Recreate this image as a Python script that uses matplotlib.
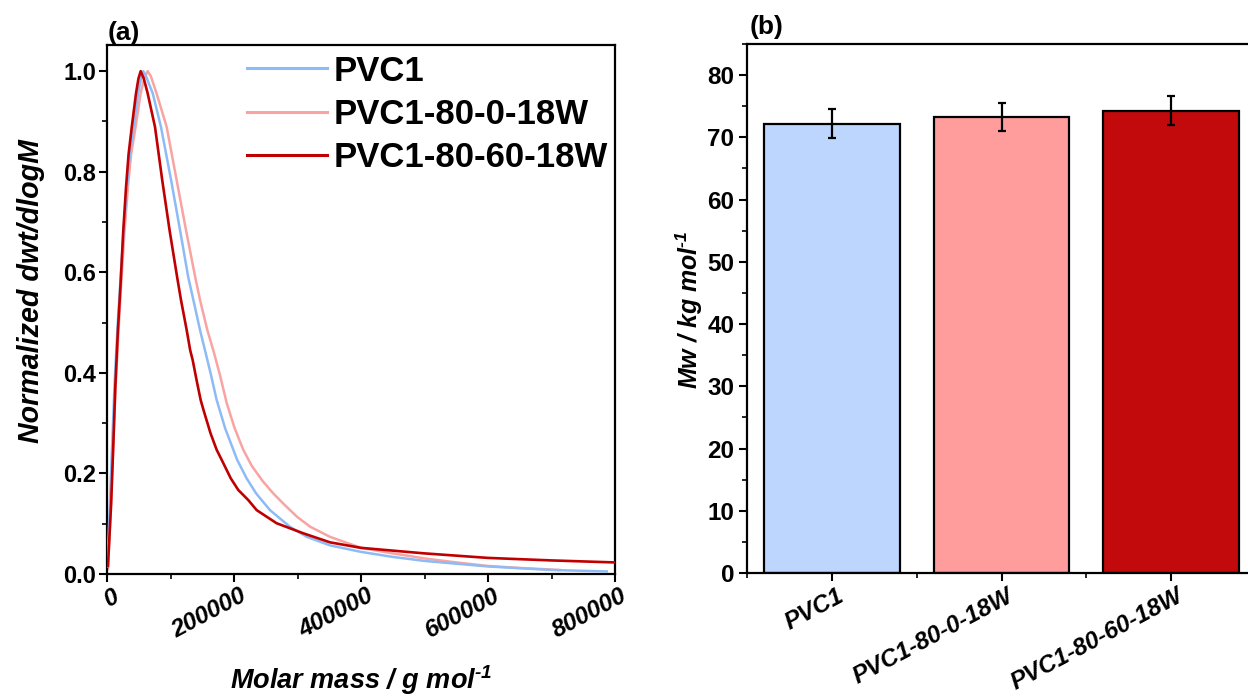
import matplotlib
matplotlib.use("Agg")
import matplotlib.pyplot as plt
from matplotlib.transforms import ScaledTranslation
from matplotlib.ticker import MultipleLocator

plt.rcParams['font.family'] = ['Liberation Sans', 'DejaVu Sans']
plt.rcParams['mathtext.fontset'] = 'custom'
plt.rcParams['mathtext.rm'] = 'Liberation Sans:italic:bold'
plt.rcParams['mathtext.it'] = 'Liberation Sans:italic:bold'
plt.rcParams['mathtext.bf'] = 'Liberation Sans:italic:bold'

# ---------------- data: panel (a) ----------------
series_names = ["PVC1", "PVC1-80-0-18W", "PVC1-80-60-18W"]
line_colors = ["#8DBBF5", "#F9A3A3", "#C00000"]

pvc1_x = [500, 4500, 8500, 12000, 16500, 21000, 26000, 31500, 36000, 42000, 49000, 53500, 57000,
          61500, 66000, 72000, 85000, 101000, 115000, 128000, 136000, 146500, 154300, 163000,
          172700, 186000, 205000, 220000, 235000, 256700, 288000, 314500, 351000, 400000,
          450000, 500000, 600000, 700000, 787000]
pvc1_y = [0.015, 0.14, 0.27, 0.38, 0.49, 0.58, 0.68, 0.77, 0.835, 0.889, 0.956, 0.985, 1.0,
          0.99, 0.975, 0.956, 0.889, 0.783, 0.684, 0.590, 0.545, 0.485, 0.445, 0.400,
          0.346, 0.290, 0.227, 0.190, 0.160, 0.127, 0.094, 0.074, 0.057, 0.044,
          0.034, 0.026, 0.015, 0.008, 0.005]

pvc180_x = [1500, 6000, 10000, 13500, 18000, 22500, 27500, 33000, 38000, 45000, 53000, 58500, 64000,
            69000, 73000, 78000, 94000, 109700, 124400, 139000, 146500, 158000, 167400, 178000,
            188500, 201000, 214600, 228000, 245000, 262000, 280000, 300000, 320000, 351000, 400000,
            450000, 500000, 550000, 600000, 650000, 713000]
pvc180_y = [0.010, 0.13, 0.26, 0.37, 0.48, 0.58, 0.68, 0.77, 0.835, 0.889, 0.956, 0.985, 1.0,
            0.99, 0.975, 0.956, 0.889, 0.783, 0.684, 0.590, 0.545, 0.485, 0.445, 0.395,
            0.340, 0.290, 0.247, 0.215, 0.185, 0.160, 0.137, 0.113, 0.094, 0.074, 0.052,
            0.041, 0.031, 0.023, 0.016, 0.012, 0.008]

pvc18060_x = [1500, 6500, 10000, 13000, 17000, 21500, 25500, 30000, 34000, 39000, 45700, 49500, 53000,
              58000, 64000, 75600, 87000, 98500, 110500, 116500, 125500, 131000, 135000, 141000,
              147500, 152000, 163000, 172700, 180600, 195000, 206800, 222500, 235700, 267000,
              309000, 351000, 400000, 500000, 600000, 700000, 800000]
pvc18060_y = [0.016, 0.14, 0.26, 0.37, 0.48, 0.58, 0.68, 0.77, 0.835, 0.889, 0.956, 0.985, 1.0,
              0.985, 0.956, 0.889, 0.783, 0.684, 0.590, 0.545, 0.485, 0.445, 0.425, 0.386,
              0.346, 0.326, 0.280, 0.247, 0.227, 0.190, 0.167, 0.147, 0.127, 0.101,
              0.081, 0.063, 0.052, 0.041, 0.032, 0.027, 0.023]

x_ticks_a = [0, 200000, 400000, 600000, 800000]
x_ticklabels_a = ["0", "200000", "400000", "600000", "800000"]
y_ticks_a = [0.0, 0.2, 0.4, 0.6, 0.8, 1.0]
y_ticklabels_a = ["0.0", "0.2", "0.4", "0.6", "0.8", "1.0"]

# ---------------- data: panel (b) ----------------
bar_categories = ["PVC1", "PVC1-80-0-18W", "PVC1-80-60-18W"]
mw_values = [72.2, 73.3, 74.3]
mw_errors = [2.3, 2.2, 2.3]
bar_colors = ["#BDD6FE", "#FF9C9C", "#C2090B"]
y_ticks_b = [0, 10, 20, 30, 40, 50, 60, 70, 80]

# ---------------- figure ----------------
fig = plt.figure(figsize=(12.48, 6.98), dpi=100)
ax1 = fig.add_axes([107/1248, 1-574/698, 508/1248, 529/698])
ax2 = fig.add_axes([747/1248, 1-573/698, 509/1248, 529/698])

lw_spine = 1.6
for ax in (ax1, ax2):
    for s in ax.spines.values():
        s.set_linewidth(lw_spine)
        s.set_color("black")

# ---- panel (a) ----
ax1.plot(pvc1_x, pvc1_y, color=line_colors[0], lw=1.8, label=series_names[0], zorder=3)
ax1.plot(pvc180_x, pvc180_y, color=line_colors[1], lw=1.8, label=series_names[1], zorder=2)
ax1.plot(pvc18060_x, pvc18060_y, color=line_colors[2], lw=1.9, label=series_names[2], zorder=4)
ax1.set_xlim(0, 800000)
ax1.set_ylim(0, 1.052)
ax1.set_xticks(x_ticks_a)
ax1.set_xticklabels(x_ticklabels_a, rotation=28, ha="right", va="top",
                    rotation_mode="anchor", fontsize=17.5, fontweight="bold", fontstyle="italic")
ax1.set_yticks(y_ticks_a)
ax1.set_yticklabels(y_ticklabels_a, fontsize=17, fontweight="bold")
ax1.xaxis.set_minor_locator(MultipleLocator(100000))
ax1.yaxis.set_minor_locator(MultipleLocator(0.1))
ax1.tick_params(which="major", direction="out", length=6, width=1.5, pad=2)
ax1.tick_params(which="minor", direction="out", length=3.5, width=1.2)
ax1.tick_params(axis="x", which="major", pad=1.5)
off = ScaledTranslation(5/100, 0, fig.dpi_scale_trans)
for lab in ax1.get_xticklabels():
    lab.set_transform(lab.get_transform() + off)

ax1.set_xlabel(r"Molar mass / g mol$^{\text{-}1}$", fontsize=19.5, fontweight="bold", fontstyle="italic")
ax1.xaxis.set_label_coords(0.5, -0.168)
ax1.xaxis.label.set_va("top")
ax1.set_ylabel("Normalized dwt/dlogM", fontsize=20.6, fontweight="bold", fontstyle="italic")
ax1.yaxis.set_label_coords(-0.122, 0.535)

leg = ax1.legend(loc="upper right", bbox_to_anchor=(1.0, 0.995), frameon=False,
                 prop={"size": 25, "weight": "bold"}, handlelength=2.3, handletextpad=0.2,
                 labelspacing=0.3, borderaxespad=0.05, borderpad=0.15)
for h in leg.get_lines():
    h.set_linewidth(2.2)

fig.text(108/1248, 1-40/698, "(a)", fontsize=19, fontweight="bold", ha="left", va="baseline")

# ---- panel (b) ----
xpos = list(range(len(bar_categories)))
ax2.bar(xpos, mw_values, width=0.8, color=bar_colors, edgecolor="black", linewidth=1.6, zorder=2)
ax2.errorbar(xpos, mw_values, yerr=mw_errors, fmt="none", ecolor="black", elinewidth=1.6,
             capsize=3, capthick=1.6, zorder=3)
ax2.set_xlim(-0.5, 2.5)
ax2.set_ylim(0, 85)
ax2.set_yticks(y_ticks_b)
ax2.set_yticklabels([str(v) for v in y_ticks_b], fontsize=17.5, fontweight="bold")
ax2.yaxis.set_minor_locator(MultipleLocator(5))
ax2.set_xticks(xpos)
ax2.set_xticklabels(bar_categories, rotation=28, ha="right", va="top", rotation_mode="anchor",
                    fontsize=17.5, fontweight="bold", fontstyle="italic")
ax2.set_xticks([-0.5, 0.5, 1.5], minor=True)
ax2.tick_params(which="major", direction="out", length=6, width=1.5, pad=3)
ax2.tick_params(which="minor", direction="out", length=3.5, width=1.2)
ax2.tick_params(axis="x", which="major", pad=2)
for lab in ax2.get_xticklabels():
    lab.set_transform(lab.get_transform() + off)

ax2.set_ylabel(r"Mw / kg mol$^{\text{-}1}$", fontsize=18, fontweight="bold", fontstyle="italic")
ax2.yaxis.set_label_coords(-0.082, 0.497)

fig.text(750/1248, 1-34/698, "(b)", fontsize=19, fontweight="bold", ha="left", va="baseline")

fig.savefig("out.png", dpi=100)
